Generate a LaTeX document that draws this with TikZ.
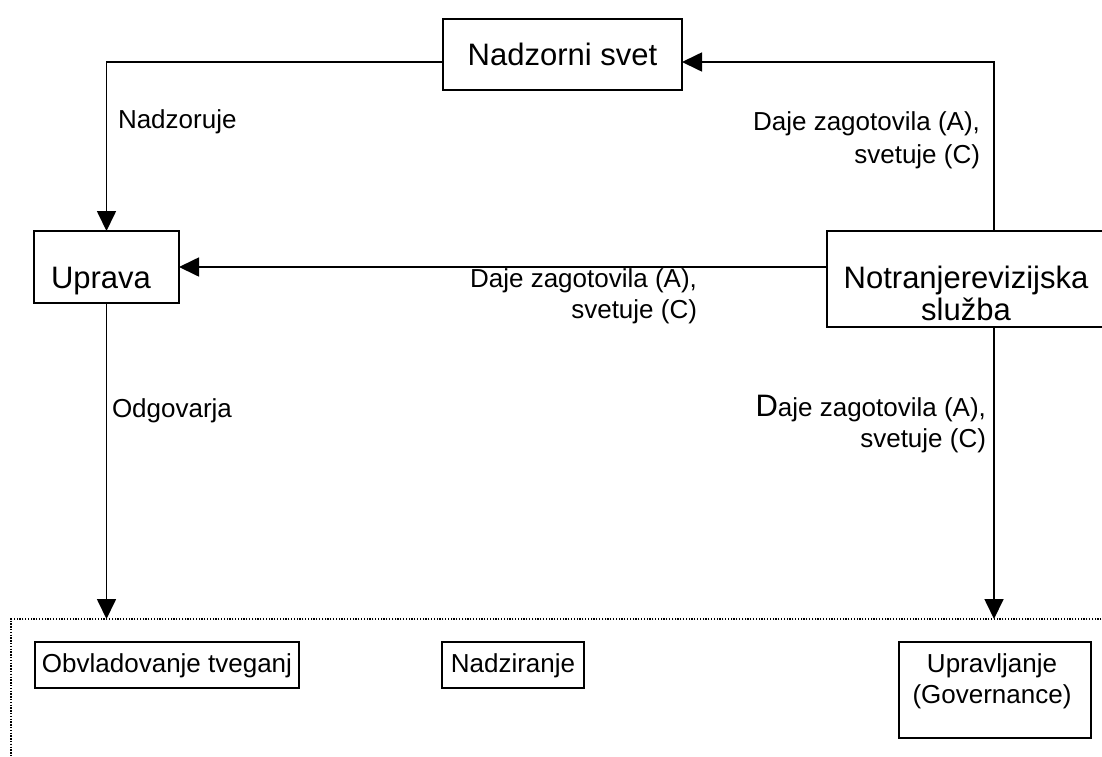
\documentclass[tikz,border=0pt]{standalone}
\usepackage{fontspec}
\setmainfont{Liberation Sans}
\usetikzlibrary{arrows.meta}
\begin{document}
\begin{tikzpicture}[x=1pt,y=-1pt,
  every node/.style={inner sep=0pt, outer sep=0pt},
  lbl/.style={font=\fontsize{26}{31}\selectfont},
  big/.style={font=\fontsize{31}{32}\selectfont},
  box/.style={draw, line width=1.8pt},
  conn/.style={line width=1.7pt},
  arr/.style={conn, -{Triangle[length=20pt,width=19pt]}},
  zonebox/.style={draw, line width=1.3pt, dash pattern=on 1.3pt off 1.5pt},
]
\useasboundingbox (0,0) rectangle (1102,756);
\clip (0,0) rectangle (1102,756);

% main boxes
\node[box, big, minimum width=239pt, minimum height=71pt,
      text height=23pt, text depth=2pt] (ns) at (562.5,54.5) {Nadzorni svet};
\node[box, minimum width=145pt, minimum height=72pt] (up) at (106.5,267) {};
\node[big, anchor=base] (uptext) at ([xshift=-5.5pt, yshift=-21pt]up.center) {Uprava};
\node[box, minimum width=283pt, minimum height=96pt] (nr) at (968.5,279) {};
% multi-line nodes: the base anchor sits on the last line
\node[big, align=center, anchor=base] (nrtext) at (966,320) {Notranjerevizijska\\služba};

% area with the three fields
\node[zonebox, anchor=north west, minimum width=1120pt, minimum height=200pt] (zone) at (11,619) {};
\node[box, lbl, minimum width=264pt, minimum height=46pt,
      text height=17pt, text depth=3pt] (risk) at (167,665) {Obvladovanje tveganj};
\node[box, lbl, minimum width=142pt, minimum height=46pt,
      text height=17pt, text depth=3pt] (ctrl) at (513,665) {Nadziranje};
\node[box, minimum width=192pt, minimum height=96pt] (gov) at (995,690) {};
\node[lbl, align=center, anchor=base] (govtext) at (992,703) {Upravljanje\\(Governance)};

% connectors
\draw[arr] ([yshift=-7.5pt]ns.west) -| (up.north);
\draw[arr] ([xshift=25.5pt]nr.north) |- ([yshift=-7.5pt]ns.east);
\draw[arr] (nr.west |- up.east) -- (up.east);
\draw[arr] (up.south) -- (up.south |- zone.north);
\draw[arr] ([xshift=25.5pt]nr.south) -- ([xshift=25.5pt]nr.south |- zone.north);

% connector labels
\node[lbl, anchor=base west] (l1) at (118,128) {Nadzoruje};
\node[lbl, align=right, anchor=base east] (l2) at (980,163) {Daje zagotovila (A),\\[2pt]svetuje (C)};
\node[lbl, align=right, anchor=base east] (l3) at (697,318) {Daje zagotovila (A),\\svetuje (C)};
\node[lbl, anchor=base west] (l4) at (112,417) {Odgovarja};
\node[lbl, align=right, anchor=base east] (l5) at (986,447)
  {{\fontsize{31}{31}\selectfont D}aje zagotovila (A),\\svetuje (C)};
\end{tikzpicture}
\end{document}
